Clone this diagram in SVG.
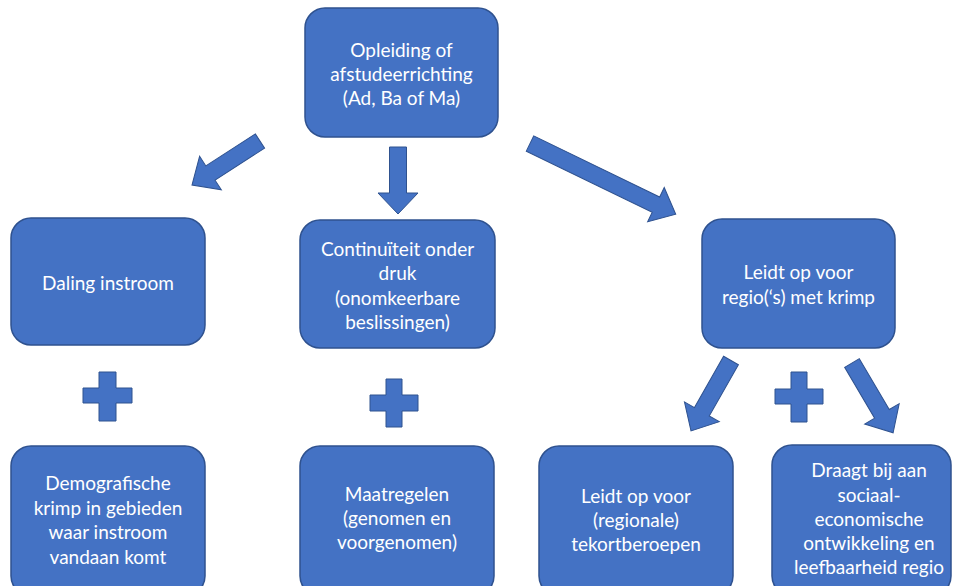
<svg xmlns="http://www.w3.org/2000/svg" width="953" height="586" viewBox="0 0 953 586">
<style>
.box{fill:#4472C4;stroke:#2F528F;stroke-width:1.5}
.sh{fill:#4472C4;stroke:#2F528F;stroke-width:1}
text{font-family:Lato,"Noto Sans","Liberation Sans",sans-serif;font-size:19px;fill:#FFFFFF;text-anchor:middle;dominant-baseline:central}
</style>
<rect width="953" height="586" fill="#FFFFFF"/>
<g id="n-opleiding">
<rect class="box" x="305" y="8" width="193" height="129" rx="20"/>
<text x="401.5" y="49">Opleiding of</text>
<text x="401.5" y="73">afstudeerrichting</text>
<text x="401.5" y="97">(Ad, Ba of Ma)</text>
</g>
<g id="n-daling">
<rect class="box" x="11" y="218" width="194" height="127" rx="20"/>
<text x="108" y="282">Daling instroom</text>
</g>
<g id="n-continuiteit">
<rect class="box" x="300" y="220" width="195" height="128" rx="20"/>
<text x="397.5" y="248">Continuïteit onder</text>
<text x="397.5" y="272">druk</text>
<text x="397.5" y="297">(onomkeerbare</text>
<text x="397.5" y="321">beslissingen)</text>
</g>
<g id="n-regio">
<rect class="box" x="702" y="219" width="193" height="129" rx="20"/>
<text x="798.5" y="271">Leidt op voor</text>
<text x="798.5" y="296">regio(‘s) met krimp</text>
</g>
<g id="n-demografische">
<rect class="box" x="11" y="446" width="194" height="150" rx="20"/>
<text x="108" y="482">Demografische</text>
<text x="108" y="507">krimp in gebieden</text>
<text x="108" y="531">waar instroom</text>
<text x="108" y="556">vandaan komt</text>
</g>
<g id="n-maatregelen">
<rect class="box" x="300" y="446" width="194" height="150" rx="20"/>
<text x="397" y="493">Maatregelen</text>
<text x="397" y="517">(genomen en</text>
<text x="397" y="541">voorgenomen)</text>
</g>
<g id="n-tekort">
<rect class="box" x="539" y="446" width="194" height="150" rx="20"/>
<text x="636" y="495">Leidt op voor</text>
<text x="636" y="519">(regionale)</text>
<text x="636" y="543">tekortberoepen</text>
</g>
<g id="n-draagt">
<rect class="box" x="772" y="445" width="179" height="151" rx="20"/>
<text x="869" y="469">Draagt bij aan</text>
<text x="869" y="494">sociaal-</text>
<text x="869" y="518">economische</text>
<text x="869" y="542">ontwikkeling en</text>
<text x="869" y="566">leefbaarheid regio</text>
</g>
<g id="connectors">
<polygon class="sh" transform="translate(260,141) rotate(147.1)" points="0,-8.5 59,-8.5 59,-20 81,0 59,20 59,8.5 0,8.5"/>
<polygon class="sh" transform="translate(398,147) rotate(90)" points="0,-8.5 46,-8.5 46,-20 67,0 46,20 46,8.5 0,8.5"/>
<polygon class="sh" transform="translate(530,143.5) rotate(25.9)" points="0,-8.5 140,-8.5 140,-19 162,0 140,19 140,8.5 0,8.5"/>
<polygon class="sh" transform="translate(731,360.5) rotate(119.6)" points="0,-8.5 59,-8.5 59,-20 81,0 59,20 59,8.5 0,8.5"/>
<polygon class="sh" transform="translate(852,363) rotate(59.5)" points="0,-8.5 59,-8.5 59,-20 81,0 59,20 59,8.5 0,8.5"/>
<path class="sh" d="M99,372 H116 V388 H132 V403 H116 V421 H99 V403 H83 V388 H99 Z"/>
<path class="sh" d="M386,379 H402 V395 H418 V411 H402 V427 H386 V411 H370 V395 H386 Z"/>
<path class="sh" d="M791,372 H807 V389 H823 V404 H807 V422 H791 V404 H775 V389 H791 Z"/>
</g>
</svg>
